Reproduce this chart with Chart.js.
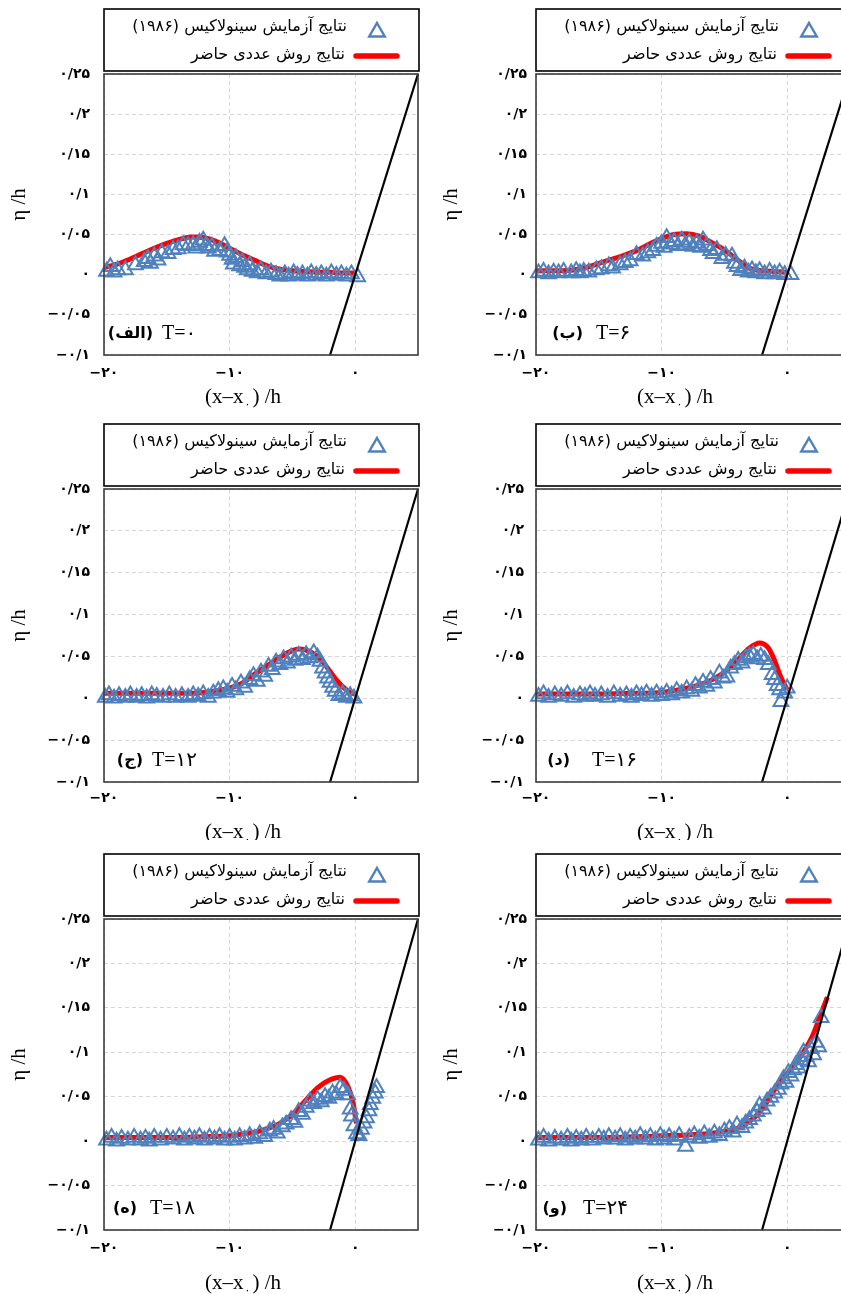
<!DOCTYPE html>
<html>
<head>
<meta charset="utf-8">
<script src="https://cdn.jsdelivr.net/npm/chart.js@4.4.1/dist/chart.umd.min.js"></script>
<style>
html,body{margin:0;padding:0;background:#fff;}
body{width:841px;height:1294px;overflow:hidden;position:relative;}
canvas{position:absolute;}
</style>
</head>
<body>
<canvas id="c0"></canvas><canvas id="c1"></canvas><canvas id="c2"></canvas>
<canvas id="c3"></canvas><canvas id="c4"></canvas><canvas id="c5"></canvas>
<script>
// ---------------- data ----------------
const panelLetters = ['الف', 'ب', 'ج', 'د', 'ه', 'و'];
const panelTimes = ['T=۰', 'T=۶', 'T=۱۲', 'T=۱۶', 'T=۱۸', 'T=۲۴'];
const legendLabels = ['نتایج آزمایش سینولاکیس (۱۹۸۶)', 'نتایج روش عددی حاضر'];
const xTitleMain = '(x–x';
const xTitleSub = '۰';
const xTitleEnd = ') /h';
const yTitle = 'η /h';
const xTicks = [-20, -10, 0];
const xTickLabels = ['−۲۰', '−۱۰', '۰'];
const yTicks = [-0.1, -0.05, 0, 0.05, 0.1, 0.15, 0.2, 0.25];
const yTickLabels = ['−۰/۱', '−۰/۰۵', '۰', '۰/۰۵', '۰/۱', '۰/۱۵', '۰/۲', '۰/۲۵'];
const xRange = [-20, 5];
const yRange = [-0.1, 0.25];
const beachX = [-2, 5];
const beachY = [-0.1, 0.25];

// T=0
const num1X = [-20,-19,-18,-17,-16,-15,-14,-13,-12,-11,-10,-9,-8,-7,-6,-5,-4,-3,-2,-1,0];
const num1Y = [0.009,0.013,0.019,0.026,0.033,0.039,0.044,0.047,0.046,0.041,0.033,0.025,0.018,0.011,0.007,0.005,0.004,0.003,0.003,0.002,0.002];
const exp1X = [-19.8,-19.5,-19.2,-18.9,-18.3,-17.5,-16.8,-16.5,-16.3,-16.0,-15.7,-15.4,-14.9,-14.5,-14.1,-13.7,-13.3,-12.9,-12.7,-12.4,-12.1,-11.9,-11.7,-11.4,-11.2,-10.8,-10.4,-10.2,-10.0,-9.8,-9.7,-9.5,-9.2,-9.0,-8.8,-8.6,-8.4,-8.2,-7.8,-7.5,-7.1,-6.7,-6.3,-6.0,-5.6,-5.3,-4.9,-4.6,-4.2,-3.8,-3.5,-3.1,-2.7,-2.3,-1.9,-1.5,-1.1,-0.7,-0.3,0.2];
const exp1Y = [0.004,0.010,0.003,0.006,0.006,0.012,0.016,0.020,0.014,0.023,0.018,0.027,0.026,0.031,0.032,0.037,0.036,0.037,0.033,0.040,0.043,0.036,0.033,0.035,0.029,0.030,0.036,0.028,0.024,0.019,0.013,0.021,0.011,0.016,0.009,0.006,0.012,0.004,0.002,0.006,0.001,0.003,0.000,-0.002,0.001,-0.002,0.002,-0.001,0.001,-0.002,0.002,-0.001,0.001,-0.002,0.002,-0.001,0.001,-0.002,0.001,-0.003];

// T=6
const num2X = [-20,-18,-17,-16,-15,-14,-13,-12,-11,-10,-9,-8,-7,-6,-5,-4,-3,-2,-1,0];
const num2Y = [0.005,0.005,0.006,0.009,0.014,0.019,0.024,0.030,0.038,0.045,0.050,0.051,0.048,0.040,0.031,0.019,0.008,0.005,0.004,0.003];
const exp2X = [-19.8,-19.4,-19.0,-18.6,-18.2,-17.8,-17.2,-16.8,-16.5,-16.2,-15.8,-15.2,-14.8,-14.2,-13.9,-13.3,-12.9,-12.5,-12.0,-11.5,-11.1,-10.7,-10.4,-10.0,-9.8,-9.6,-9.3,-9.0,-8.7,-8.4,-8.1,-7.8,-7.5,-7.2,-6.9,-6.7,-6.4,-6.1,-5.9,-5.6,-5.2,-4.9,-4.4,-4.2,-4.0,-3.7,-3.4,-3.1,-2.8,-2.5,-2.2,-1.8,-1.4,-1.0,-0.6,-0.2,0.3];
const exp2Y = [0.002,0.004,0.001,0.003,0.002,0.004,0.002,0.005,0.002,0.004,0.003,0.006,0.007,0.011,0.008,0.012,0.015,0.017,0.025,0.023,0.027,0.030,0.035,0.039,0.034,0.046,0.038,0.041,0.036,0.043,0.037,0.040,0.035,0.039,0.034,0.043,0.036,0.030,0.026,0.031,0.020,0.024,0.023,0.014,0.010,0.005,0.008,0.003,0.006,0.002,0.005,0.001,0.004,0.001,0.003,0.000,0.000];

// T=12
const num3X = [-20,-16,-13,-12,-11,-10,-9,-8,-7,-6,-5,-4.5,-4,-3,-2.5,-2,-1.5,-1,-0.5,0];
const num3Y = [0.006,0.006,0.006,0.007,0.009,0.012,0.018,0.029,0.039,0.049,0.057,0.059,0.058,0.050,0.042,0.032,0.022,0.014,0.008,0.005];
const exp3X = [-19.9,-19.6,-19.2,-18.8,-18.3,-17.9,-17.4,-17.0,-16.6,-16.2,-15.8,-15.3,-14.8,-14.3,-13.8,-13.3,-12.9,-12.5,-12.1,-11.7,-11.3,-10.9,-10.5,-10.2,-9.8,-9.5,-9.1,-8.8,-8.4,-8.1,-7.8,-7.5,-7.2,-6.9,-6.6,-6.3,-6.0,-5.7,-5.4,-5.1,-4.8,-4.5,-4.2,-3.9,-3.6,-3.3,-3.0,-2.8,-2.6,-2.4,-2.2,-2.0,-1.8,-1.6,-1.3,-1.0,-0.7,-0.4,-0.1];
const exp3Y = [0.001,0.004,0.000,0.003,0.001,0.004,0.001,0.003,0.000,0.004,0.002,0.001,0.004,0.001,0.003,0.001,0.004,0.002,0.005,0.001,0.006,0.009,0.011,0.007,0.014,0.010,0.018,0.013,0.022,0.027,0.020,0.031,0.026,0.038,0.034,0.043,0.040,0.047,0.042,0.049,0.045,0.051,0.046,0.052,0.048,0.054,0.049,0.044,0.036,0.030,0.024,0.019,0.013,0.008,0.003,0.005,0.001,0.003,0.000];

// T=16
const num4X = [-20,-16,-12,-10,-9,-8,-7,-6,-5,-4,-3,-2.2,-1.5,-1,-0.5,0];
const num4Y = [0.005,0.005,0.006,0.007,0.009,0.012,0.016,0.022,0.031,0.045,0.060,0.066,0.060,0.045,0.025,0.010];
const exp4X = [-19.8,-19.4,-19.0,-18.5,-18.0,-17.5,-17.0,-16.5,-16.1,-15.7,-15.3,-14.8,-14.3,-13.8,-13.3,-12.8,-12.4,-12.0,-11.6,-11.2,-10.8,-10.4,-10.0,-9.6,-9.2,-8.8,-8.4,-8.0,-7.6,-7.3,-7.0,-6.7,-6.4,-6.1,-5.8,-5.4,-5.1,-4.8,-4.5,-4.2,-3.9,-3.6,-3.3,-3.0,-2.7,-2.4,-2.1,-1.8,-1.5,-1.2,-1.0,-0.8,-0.6,-0.5,-0.2,0.0];
const exp4Y = [0.002,0.005,0.001,0.004,0.002,0.005,0.001,0.004,0.002,0.005,0.002,0.004,0.001,0.005,0.002,0.004,0.001,0.005,0.003,0.006,0.002,0.006,0.003,0.007,0.004,0.009,0.006,0.011,0.008,0.015,0.012,0.019,0.014,0.022,0.018,0.030,0.024,0.025,0.036,0.040,0.045,0.042,0.048,0.050,0.052,0.047,0.050,0.046,0.040,0.028,0.022,0.015,0.010,-0.004,0.006,0.012];

// T=18
const num5X = [-20,-16,-12,-10,-9,-8,-7,-6,-5,-4,-3,-2,-1.2,-0.6,-0.2,0.1];
const num5Y = [0.004,0.004,0.005,0.006,0.008,0.010,0.014,0.020,0.030,0.045,0.060,0.069,0.072,0.062,0.045,0.020];
const exp5X = [-19.8,-19.4,-19.0,-18.6,-18.1,-17.6,-17.1,-16.7,-16.4,-16.0,-15.5,-15.0,-14.5,-14.0,-13.6,-13.2,-12.8,-12.4,-12.0,-11.6,-11.2,-10.8,-10.4,-10.0,-9.6,-9.2,-8.8,-8.4,-8.0,-7.6,-7.2,-6.8,-6.5,-6.2,-5.8,-5.5,-5.1,-4.8,-4.5,-4.2,-3.9,-3.6,-3.3,-3.0,-2.7,-2.4,-2.1,-1.8,-1.5,-1.2,-0.9,-0.6,-0.4,-0.3,-0.1,0.1,0.3,0.5,0.7,0.9,1.1,1.2,1.4,1.6,1.7];
const exp5Y = [0.001,0.004,0.000,0.003,0.001,0.004,0.001,0.003,0.000,0.004,0.001,0.004,0.002,0.005,0.001,0.004,0.002,0.005,0.001,0.004,0.002,0.005,0.001,0.004,0.001,0.005,0.002,0.006,0.003,0.008,0.005,0.011,0.013,0.009,0.016,0.019,0.024,0.021,0.033,0.030,0.038,0.045,0.042,0.047,0.044,0.050,0.048,0.054,0.052,0.060,0.057,0.052,0.036,0.028,0.017,0.008,0.006,0.013,0.020,0.026,0.034,0.041,0.048,0.054,0.060];

// T=24
const num6X = [-20,-16,-12,-10,-8,-6,-5,-4,-3,-2,-1,0,1,2,2.6,3.2];
const num6Y = [0.004,0.004,0.005,0.006,0.007,0.009,0.011,0.014,0.022,0.036,0.058,0.076,0.094,0.118,0.140,0.162];
const exp6X = [-19.8,-19.4,-19.0,-18.5,-18.0,-17.5,-17.2,-16.8,-16.4,-16.0,-15.5,-15.0,-14.6,-14.2,-13.7,-13.3,-12.9,-12.5,-12.1,-11.7,-11.3,-10.9,-10.5,-10.1,-9.8,-9.4,-9.0,-8.6,-8.1,-7.8,-7.4,-7.0,-6.6,-6.2,-5.8,-5.4,-5.0,-4.6,-4.3,-4.0,-3.6,-3.3,-3.0,-2.7,-2.4,-2.2,-1.9,-1.6,-1.3,-1.0,-0.7,-0.5,-0.3,-0.1,0.1,0.3,0.5,0.7,0.9,1.1,1.3,1.5,1.7,1.9,2.1,2.3,2.5,2.7];
const exp6Y = [0.001,0.004,0.000,0.003,0.001,0.004,0.000,0.003,0.001,0.004,0.001,0.004,0.002,0.005,0.002,0.005,0.001,0.004,0.002,0.006,0.002,0.005,0.001,0.006,0.002,0.005,0.001,0.006,-0.006,0.004,0.007,0.003,0.008,0.004,0.009,0.006,0.011,0.014,0.010,0.018,0.015,0.020,0.024,0.028,0.033,0.040,0.036,0.045,0.049,0.054,0.058,0.064,0.070,0.066,0.077,0.073,0.080,0.086,0.082,0.091,0.100,0.095,0.089,0.104,0.097,0.111,0.106,0.139];

const expX = [exp1X, exp2X, exp3X, exp4X, exp5X, exp6X];
const expY = [exp1Y, exp2Y, exp3Y, exp4Y, exp5Y, exp6Y];
const numX = [num1X, num2X, num3X, num4X, num5X, num6X];
const numY = [num1Y, num2Y, num3Y, num4Y, num5Y, num6Y];

// ---------------- layout / style ----------------
const BLUE = '#4f81bd';
const RED = '#ff0000';
const PANEL = [
  {left: 0,   top: 0,   h: 410, bottom: 355, xTitle: 42, tickPad: 10, yPad: 14, letterR: 49, tX: 58},
  {left: 432, top: 0,   h: 410, bottom: 355, xTitle: 42, tickPad: 10, yPad: 9,  letterR: 47, tX: 60},
  {left: 0,   top: 415, h: 425, bottom: 367, xTitle: 50, tickPad: 8,  yPad: 14, letterR: 39, tX: 48},
  {left: 432, top: 415, h: 425, bottom: 367, xTitle: 50, tickPad: 8,  yPad: 12, letterR: 34, tX: 56},
  {left: 0,   top: 845, h: 449, bottom: 385, xTitle: 53, tickPad: 10, yPad: 14, letterR: 33, tX: 46},
  {left: 432, top: 845, h: 449, bottom: 385, xTitle: 53, tickPad: 10, yPad: 9,  letterR: 31, tX: 47}
];
const CW = 424;
const AR_FONT = '"DejaVu Sans", sans-serif';
const SERIF = '"Liberation Serif", "DejaVu Sans", serif';

function pts(xs, ys) { return xs.map((x, i) => ({x: x, y: ys[i]})); }

function triPath(ctx, x, y, r) {
  ctx.beginPath();
  ctx.moveTo(x, y - r);
  ctx.lineTo(x + r * Math.sin(2 * Math.PI / 3), y - r * Math.cos(2 * Math.PI / 3));
  ctx.lineTo(x + r * Math.sin(4 * Math.PI / 3), y - r * Math.cos(4 * Math.PI / 3));
  ctx.closePath();
}

const decor = {
  id: 'decor',
  afterDraw(chart, args, opts) {
    const ctx = chart.ctx, a = chart.chartArea, P = opts.panel, k = opts.index;
    ctx.save();
    // plot frame
    ctx.strokeStyle = '#3c3c3c';
    ctx.lineWidth = 1.6;
    ctx.strokeRect(a.left, a.top, a.right - a.left, a.bottom - a.top);
    // legend box
    const bx = a.left, by = a.top - 65, bw = a.right - a.left + 1, bh = 62;
    const right = bx + bw;
    ctx.fillStyle = '#fff';
    ctx.fillRect(bx, by, bw, bh);
    ctx.strokeStyle = '#000';
    ctx.lineWidth = 1.6;
    ctx.strokeRect(bx, by, bw, bh);
    // legend marker: triangle
    ctx.strokeStyle = BLUE;
    ctx.lineWidth = 2.4;
    triPath(ctx, right - 42, by + 23, 9);
    ctx.stroke();
    // legend marker: red line
    ctx.strokeStyle = RED;
    ctx.lineWidth = 5.5;
    ctx.lineCap = 'round';
    ctx.beginPath();
    ctx.moveTo(right - 63, by + 47);
    ctx.lineTo(right - 22, by + 47);
    ctx.stroke();
    // legend text
    ctx.fillStyle = '#000';
    ctx.direction = 'rtl';
    ctx.textAlign = 'right';
    ctx.textBaseline = 'middle';
    ctx.font = '16px ' + AR_FONT;
    ctx.fillText(chart.data.datasets[0].label, right - 72, by + 18);
    ctx.fillText(chart.data.datasets[1].label, right - 74, by + 46);
    // panel label
    ctx.font = 'bold 16px ' + AR_FONT;
    ctx.fillText('(' + panelLetters[k] + ')', a.left + P.letterR, a.bottom - 21);
    ctx.direction = 'ltr';
    ctx.textAlign = 'left';
    ctx.font = '20px ' + SERIF;
    ctx.fillText(panelTimes[k], a.left + P.tX, a.bottom - 21);
    // x title with subscript
    const cx = (a.left + a.right) / 2 - 18, ty = a.bottom + P.xTitle;
    ctx.font = '21px ' + SERIF;
    const w1 = ctx.measureText(xTitleMain).width;
    const w3 = ctx.measureText(xTitleEnd).width;
    ctx.font = '11px ' + AR_FONT;
    const w2 = ctx.measureText(xTitleSub).width + 3;
    let sx = cx - (w1 + w2 + w3) / 2;
    ctx.font = '21px ' + SERIF;
    ctx.fillText(xTitleMain, sx, ty);
    ctx.font = '11px ' + AR_FONT;
    ctx.fillText(xTitleSub, sx + w1 + 1, ty + 8);
    ctx.font = '21px ' + SERIF;
    ctx.fillText(xTitleEnd, sx + w1 + w2, ty);
    // y title
    ctx.translate(19, (a.top + a.bottom) / 2 - 10);
    ctx.rotate(-Math.PI / 2);
    ctx.textAlign = 'center';
    ctx.font = '21px ' + SERIF;
    ctx.fillText(yTitle, 0, 0);
    ctx.restore();
  }
};

PANEL.forEach((P, k) => {
  const cv = document.getElementById('c' + k);
  cv.width = CW; cv.height = P.h;
  cv.style.width = CW + 'px'; cv.style.height = P.h + 'px';
  cv.style.left = P.left + 'px'; cv.style.top = P.top + 'px';
  new Chart(cv.getContext('2d'), {
    type: 'scatter',
    data: {
      datasets: [
        {
          label: legendLabels[0],
          data: pts(expX[k], expY[k]),
          pointStyle: 'triangle',
          pointRadius: 8.5,
          pointHoverRadius: 8.5,
          pointBorderWidth: 2,
          borderColor: BLUE,
          backgroundColor: 'rgba(0,0,0,0)',
          showLine: false,
          clip: false,
          order: 1
        },
        {
          label: legendLabels[1],
          data: pts(numX[k], numY[k]),
          showLine: true,
          borderColor: RED,
          borderWidth: 5,
          pointRadius: 0,
          cubicInterpolationMode: 'monotone',
          order: 2
        },
        {
          label: 'beach',
          data: pts(beachX, beachY),
          showLine: true,
          borderColor: '#000',
          borderWidth: 2.2,
          pointRadius: 0,
          clip: false,
          order: 0
        }
      ]
    },
    options: {
      animation: false,
      responsive: false,
      devicePixelRatio: 1,
      events: [],
      layout: {autoPadding: false, padding: {top: 74, right: CW - 418, left: 0, bottom: 0}},
      plugins: {legend: {display: false}, tooltip: {enabled: false}, decor: {panel: P, index: k}},
      scales: {
        x: {
          type: 'linear',
          min: xRange[0], max: xRange[1],
          afterBuildTicks: (s) => { s.ticks = xTicks.map(v => ({value: v})); },
          afterFit: (s) => { s.height = P.h - P.bottom; s.paddingLeft = 0; s.paddingRight = 0; },
          ticks: {
            callback: (v) => xTickLabels[xTicks.indexOf(v)],
            font: {family: AR_FONT, size: 14, weight: 'bold'},
            color: '#000',
            padding: P.tickPad,
            maxRotation: 0,
            autoSkip: false
          },
          grid: {color: '#d6d6d6', lineWidth: 1, drawTicks: false},
          border: {display: false, dash: [4, 3]}
        },
        y: {
          type: 'linear',
          min: yRange[0], max: yRange[1],
          afterBuildTicks: (s) => { s.ticks = yTicks.map(v => ({value: v})); },
          afterFit: (s) => { s.width = 104; s.paddingTop = 0; s.paddingBottom = 0; },
          ticks: {
            callback: (v) => yTickLabels[yTicks.indexOf(v)],
            font: {family: AR_FONT, size: 14, weight: 'bold'},
            color: '#000',
            padding: P.yPad,
            autoSkip: false
          },
          grid: {color: '#d6d6d6', lineWidth: 1, drawTicks: false},
          border: {display: false, dash: [4, 3]}
        }
      }
    },
    plugins: [decor]
  });
});
</script>
</body>
</html>
